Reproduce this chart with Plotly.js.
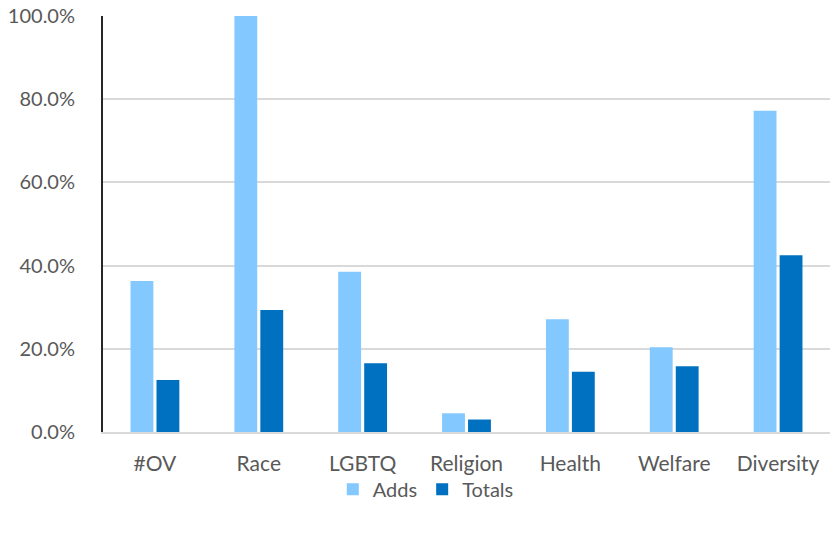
<!DOCTYPE html>
<html><head><meta charset="utf-8">
<script src="https://cdn.plot.ly/plotly-3.0.1.min.js"></script>
<style>html,body{margin:0;padding:0;background:#fff}</style>
</head><body>
<div id="chart" style="width:832px;height:534px"></div>
<script>
const categories = ["#OV", "Race", "LGBTQ", "Religion", "Health", "Welfare", "Diversity"];
const adds = [0.363, 1.0, 0.385, 0.045, 0.271, 0.204, 0.772];
const totals = [0.125, 0.293, 0.165, 0.030, 0.145, 0.158, 0.425];
const yTicks = [0, 0.2, 0.4, 0.6, 0.8, 1.0];

const font = "Lato, 'Open Sans', sans-serif";
const data = [
  {type: "bar", name: "Adds", x: categories, y: adds, marker: {color: "#83c8ff"}},
  {type: "bar", name: "Totals", x: categories, y: totals, marker: {color: "#0070c0"}}
];
const layout = {
  width: 832, height: 534,
  margin: {l: 103, r: 2, t: 16, b: 102, autoexpand: false},
  paper_bgcolor: "#fff", plot_bgcolor: "#fff",
  barmode: "group", bargap: 0.5, bargroupgap: 0.12,
  font: {family: font, size: 20, color: "#595959"},
  xaxis: {
    showgrid: false, showline: true, linecolor: "#d9d9d9", linewidth: 2,
    ticks: "", ticklabelstandoff: 12, tickfont: {size: 21, color: "#595959"}
  },
  yaxis: {
    range: [0, 1.0], tickvals: yTicks, tickformat: ".1%",
    showgrid: true, gridcolor: "#d9d9d9", gridwidth: 2,
    showline: true, linecolor: "#262626", linewidth: 2,
    zeroline: false, ticks: "", ticklabelstandoff: 22,
    tickfont: {size: 20, color: "#595959"}
  },
  showlegend: true,
  legend: {orientation: "h", x: 0.444, xanchor: "center", y: -0.091, yanchor: "top",
    bgcolor: "rgba(0,0,0,0)",
    font: {size: 20, color: "#595959"}, itemwidth: 30, traceorder: "normal"}
};
Plotly.newPlot("chart", data, layout, {displayModeBar: false});
</script>
</body></html>
